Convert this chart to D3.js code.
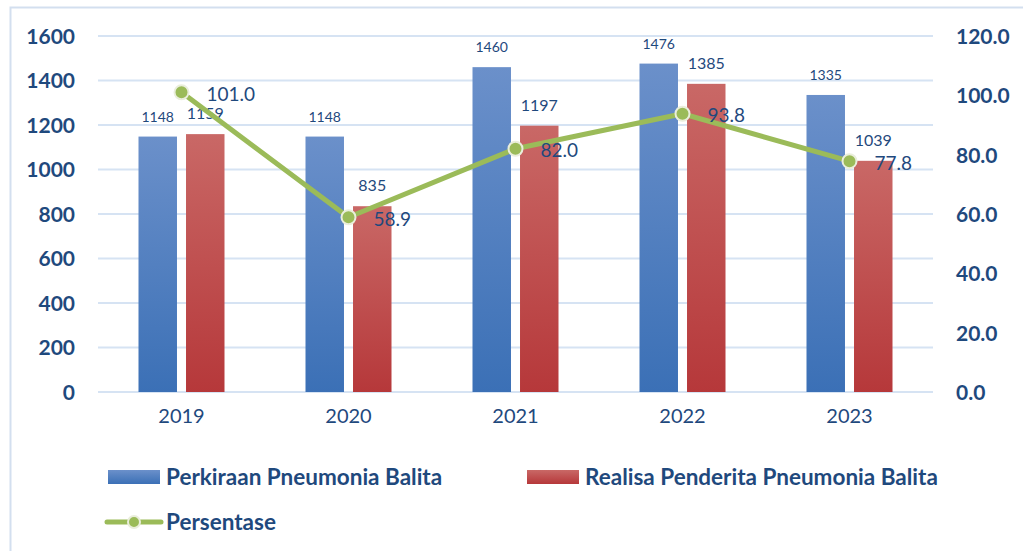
<!DOCTYPE html>
<html>
<head>
<meta charset="utf-8">
<script src="https://cdn.jsdelivr.net/npm/d3@7"></script>
<style>
  body { margin: 0; background: #fff; }
  svg text { font-family: Lato, "Open Sans", sans-serif; }
</style>
</head>
<body>
<div id="chart"></div>
<script>
// data
const years = ["2019", "2020", "2021", "2022", "2023"];
const perkiraan = [1148, 1148, 1460, 1476, 1335];
const realisasi = [1159, 835, 1197, 1385, 1039];
const persentase = [101.0, 58.9, 82.0, 93.8, 77.8];
const leftTicks = [0, 200, 400, 600, 800, 1000, 1200, 1400, 1600];
const rightTicks = [0, 20, 40, 60, 80, 100, 120];

const W = 1023, H = 551;
const plot = { left: 98, right: 933, top: 36, bottom: 392 };
const textColor = "#1F497D";

const svg = d3.select("#chart").append("svg")
  .attr("width", W).attr("height", H);

// gradients for bars
const defs = svg.append("defs");
function grad(id, top, bottom) {
  const g = defs.append("linearGradient").attr("id", id)
    .attr("x1", 0).attr("y1", 0).attr("x2", 0).attr("y2", 1);
  g.append("stop").attr("offset", "0%").attr("stop-color", top);
  g.append("stop").attr("offset", "100%").attr("stop-color", bottom);
}
grad("gBlue", "#6B90CA", "#3B70B6");
grad("gRed", "#C96866", "#B6383A");

// frame
svg.append("path")
  .attr("d", "M10.5,551 L10.5,7.5 L1023,7.5")
  .attr("fill", "none").attr("stroke", "#D3DFEF").attr("stroke-width", 2);

const x0 = d3.scaleBand().domain(years).range([plot.left, plot.right]);
const x1 = d3.scaleBand().domain(["a", "b"]).range([0, 86]).paddingInner(0.19);
const xoff = (x0.bandwidth() - 86) / 2;
const yL = d3.scaleLinear().domain([0, 1600]).range([plot.bottom, plot.top]);
const yR = d3.scaleLinear().domain([0, 120]).range([plot.bottom, plot.top]);

// gridlines
svg.append("g").selectAll("line").data(leftTicks).join("line")
  .attr("x1", plot.left).attr("x2", plot.right)
  .attr("y1", d => yL(d)).attr("y2", d => yL(d))
  .attr("stroke", "#D6E3F3").attr("stroke-width", 2);

// left axis
const axL = svg.append("g")
  .attr("transform", `translate(${plot.left - 23},0)`)
  .call(d3.axisLeft(yL).tickValues(leftTicks).tickSize(0).tickPadding(0)
    .tickFormat(d3.format("d")));
axL.select(".domain").remove();
axL.selectAll("text").attr("fill", textColor).attr("font-size", 21)
  .attr("font-weight", "bold").attr("dy", "0.35em");

// right axis
const axR = svg.append("g")
  .attr("transform", `translate(956,0)`)
  .call(d3.axisRight(yR).tickValues(rightTicks).tickSize(0).tickPadding(0)
    .tickFormat(d3.format(".1f")));
axR.select(".domain").remove();
axR.selectAll("text").attr("fill", textColor).attr("font-size", 21)
  .attr("font-weight", "bold").attr("dy", "0.35em");

// x axis labels
const axB = svg.append("g")
  .attr("transform", `translate(0,${plot.bottom})`)
  .call(d3.axisBottom(x0).tickSize(0).tickPadding(24));
axB.select(".domain").remove();
axB.selectAll("text").attr("fill", textColor).attr("font-size", 20)
  .attr("dy", "0.35em");

// bars
const series = [
  { key: "a", values: perkiraan, fill: "url(#gBlue)", labelSize: 14 },
  { key: "b", values: realisasi, fill: "url(#gRed)", labelSize: 16 }
];
series.forEach(s => {
  const g = svg.append("g");
  g.selectAll("rect").data(s.values).join("rect")
    .attr("x", (d, i) => x0(years[i]) + xoff + x1(s.key))
    .attr("width", x1.bandwidth())
    .attr("y", d => yL(d))
    .attr("height", d => yL(0) - yL(d))
    .attr("fill", s.fill);
  g.selectAll("text").data(s.values).join("text")
    .attr("x", (d, i) => x0(years[i]) + xoff + x1(s.key) + x1.bandwidth() / 2)
    .attr("y", d => yL(d) - 15)
    .attr("text-anchor", "middle")
    .attr("fill", textColor).attr("font-size", s.labelSize)
    .text(d => d);
});

// percentage line
const cx = i => x0(years[i]) + x0.bandwidth() / 2;
const line = d3.line().x((d, i) => cx(i)).y(d => yR(d));
svg.append("path").datum(persentase)
  .attr("d", line).attr("fill", "none")
  .attr("stroke", "#9BBB59").attr("stroke-width", 5)
  .attr("stroke-linejoin", "round");
svg.append("g").selectAll("circle").data(persentase).join("circle")
  .attr("cx", (d, i) => cx(i)).attr("cy", d => yR(d)).attr("r", 7)
  .attr("fill", "#9BBB59").attr("stroke", "#EAEEDC").attr("stroke-width", 2);
svg.append("g").selectAll("text").data(persentase).join("text")
  .attr("x", (d, i) => cx(i) + 25).attr("y", d => yR(d) + 2)
  .attr("dy", "0.35em")
  .attr("fill", textColor).attr("font-size", 19)
  .text(d => d3.format(".1f")(d));

// legend
const lg = svg.append("g").attr("font-weight", "bold").attr("font-size", 22.5)
  .attr("fill", textColor);
lg.append("rect").attr("x", 108).attr("y", 470).attr("width", 52).attr("height", 14)
  .attr("fill", "url(#gBlue)");
lg.append("text").attr("x", 166).attr("y", 477).attr("dy", "0.35em")
  .text("Perkiraan Pneumonia Balita");
lg.append("rect").attr("x", 527).attr("y", 470).attr("width", 52).attr("height", 14)
  .attr("fill", "url(#gRed)");
lg.append("text").attr("x", 585).attr("y", 477).attr("dy", "0.35em")
  .text("Realisa Penderita Pneumonia Balita");
lg.append("line").attr("x1", 107).attr("x2", 161).attr("y1", 522).attr("y2", 522)
  .attr("stroke", "#9BBB59").attr("stroke-width", 5).attr("stroke-linecap", "round");
lg.append("circle").attr("cx", 134).attr("cy", 522).attr("r", 6)
  .attr("fill", "#9BBB59").attr("stroke", "#EAEEDC").attr("stroke-width", 2);
lg.append("text").attr("x", 166).attr("y", 522).attr("dy", "0.35em")
  .text("Persentase");
</script>
</body>
</html>
